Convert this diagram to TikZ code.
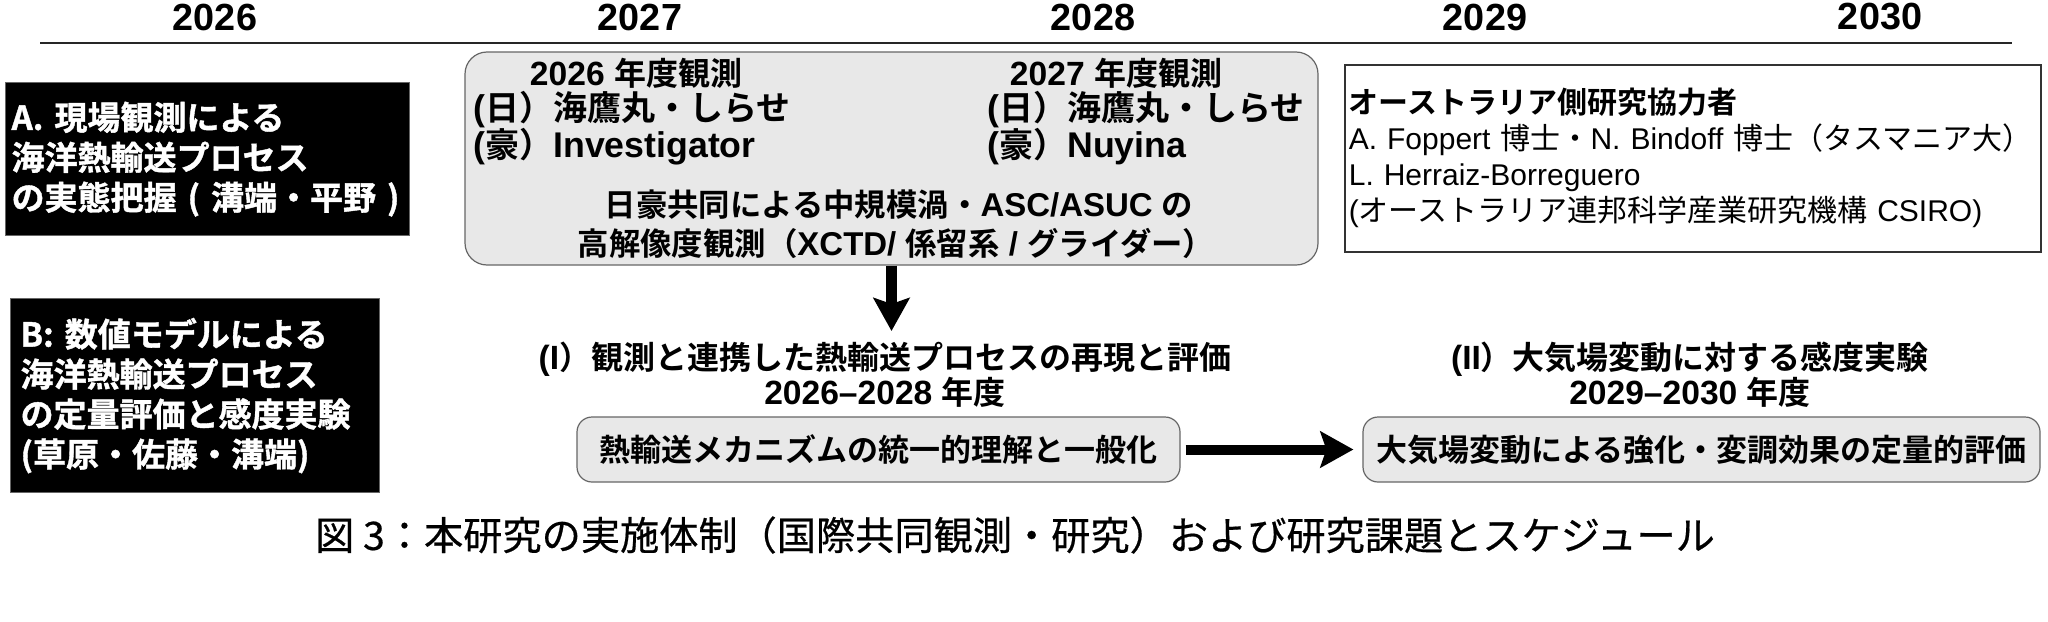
\documentclass[tikz,border=0pt]{standalone}
\usepackage{fontspec}
\setmainfont{Noto Sans CJK JP}[BoldFont={Noto Sans CJK JP Bold}]
\newfontfamily\latf{Liberation Sans}[Scale=1.05]
\newfontfamily\latr{Liberation Sans}
\newfontfamily\heavyjp{Noto Sans CJK JP Bold}[FakeBold=1.2]
\newfontfamily\capfont{Noto Sans CJK JP}[FakeBold=0.5]
\usetikzlibrary{arrows.meta}
\newcommand{\LatRun}[1]{{\latf #1}}
\newcommand{\LatReg}[1]{{\latr #1}}
\begin{document}
\begin{tikzpicture}[x=0.5pt,y=-0.5pt,
  yearlbl/.style={font=\fontsize{18pt}{20pt}\selectfont\bfseries\latf, inner sep=0pt},
  tline/.style={line width=1pt, draw=black!85},
  blackbox/.style={fill=black, draw=black!60, line width=0.6pt, text=white, align=left, anchor=north west, inner ysep=0pt, font=\fontsize{16.5pt}{20pt}\selectfont\heavyjp},
  obsbox/.style={fill=black!9, draw=black!60, line width=0.6pt, rounded corners=11pt, inner sep=0pt},
  obshead/.style={font=\fontsize{16pt}{18pt}\selectfont\bfseries, inner sep=0pt},
  obstext/.style={font=\fontsize{17pt}{19pt}\selectfont\bfseries, inner sep=0pt},
  obsnote/.style={font=\fontsize{15.7pt}{18pt}\selectfont\bfseries, inner sep=0pt},
  collabbox/.style={draw=black!80, line width=0.8pt, fill=white, anchor=north west, align=left, inner xsep=2pt, inner ysep=0pt, font=\fontsize{15pt}{18pt}\selectfont},
  phasetitle/.style={font=\fontsize{16pt}{17.5pt}\selectfont\bfseries, align=center, inner sep=0pt},
  resbox/.style={fill=black!9, draw=black!60, line width=0.6pt, rounded corners=7.5pt, minimum height=32.5pt, inner sep=0pt, font=\fontsize{15.5pt}{18pt}\selectfont\bfseries},
  flow/.style={line width=5pt, -{Stealth[length=16.5pt, width=18pt, inset=3pt]}},
  captiontext/.style={font=\fontsize{19.6pt}{22pt}\selectfont\capfont, inner sep=0pt}
]
\useasboundingbox (0,0) rectangle (2048,621);
\fill[white] (0,0) rectangle (2048,621);

% years and timeline
\node[yearlbl] (y26) at (215,17) {2026};
\node[yearlbl] (y27) at (640,17) {2027};
\node[yearlbl] (y28) at (1093,17) {2028};
\node[yearlbl] (y29) at (1485,17) {2029};
\node[yearlbl] (y30) at (1880,17) {2030};
\coordinate (tlA) at (40,43);
\coordinate (tlB) at (2012,43);
\draw[tline] (tlA) -- (tlB);

% left black boxes
\node[blackbox, text width=196pt, minimum height=76.5pt, inner xsep=3pt] (boxA) at (5,82)
  {A. 現場観測による\\海洋熱輸送プロセス\\の実態把握 ( 溝端・平野 )};
\node[blackbox, text width=174.5pt, minimum height=97pt, inner xsep=5pt] (boxB) at (10,298)
  {B: 数値モデルによる\\海洋熱輸送プロセス\\の定量評価と感度実験\\(草原・佐藤・溝端)};

% observation box
\node[obsbox, minimum width=426.5pt, minimum height=106.5pt] (obs) at (891.5,158.5) {};
\node[obshead] (h26) at (636,73) {\LatRun{2026 }年度観測};
\node[obstext, anchor=west] (s26a) at (473,110) {\LatRun{(}日）海鷹丸・しらせ};
\node[obstext, anchor=west] (s26b) at (473,147) {\LatRun{(}豪）\LatRun{Investigator}};
\node[obshead] (h27) at (1116,73) {\LatRun{2027 }年度観測};
\node[obstext, anchor=west] (s27a) at (987,110) {\LatRun{(}日）海鷹丸・しらせ};
\node[obstext, anchor=west] (s27b) at (987,147) {\LatRun{(}豪）\LatRun{Nuyina}};
\node[obsnote] (n1) at (899,205) {日豪共同による中規模渦・\LatRun{ASC/ASUC }の};
\node[obsnote] (n2) at (896,243) {高解像度観測（\LatRun{XCTD/ }係留系\LatRun{ / }グライダー）};

% collaborators
\node[collabbox, text width=344pt, minimum height=93.5pt] (collab) at (1344,64)
  {{\bfseries オーストラリア側研究協力者}\\
   \LatReg{A. Foppert }博士・\LatReg{N. Bindoff }博士（タスマニア大）\\
   \LatReg{L. Herraiz-Borreguero}\\
   \LatReg{(}オーストラリア連邦科学産業研究機構\LatReg{ CSIRO)}};

% phase titles
\node[phasetitle] (ph1) at (885,375) {\LatRun{(I}）観測と連携した熱輸送プロセスの再現と評価\\\LatRun{2026–2028 }年度};
\node[phasetitle] (ph2) at (1690,375) {\LatRun{(II}）大気場変動に対する感度実験\\\LatRun{2029–2030 }年度};

% result boxes
\node[resbox, minimum width=301.5pt] (res1) at (878.5,449.5) {熱輸送メカニズムの統一的理解と一般化};
\node[resbox, minimum width=338.5pt] (res2) at (1701.5,449.5) {大気場変動による強化・変調効果の定量的評価};

% arrows
\coordinate (dtip) at (891.5,331);
\draw[flow, line width=5.5pt] (obs.south) -- (dtip);
\draw[flow, shorten <=2.5pt, shorten >=4.5pt] (res1.east) -- (res2.west);

% caption
\node[captiontext] (cap) at (1015,535) {図 3：本研究の実施体制（国際共同観測・研究）および研究課題とスケジュール};
\end{tikzpicture}
\end{document}
